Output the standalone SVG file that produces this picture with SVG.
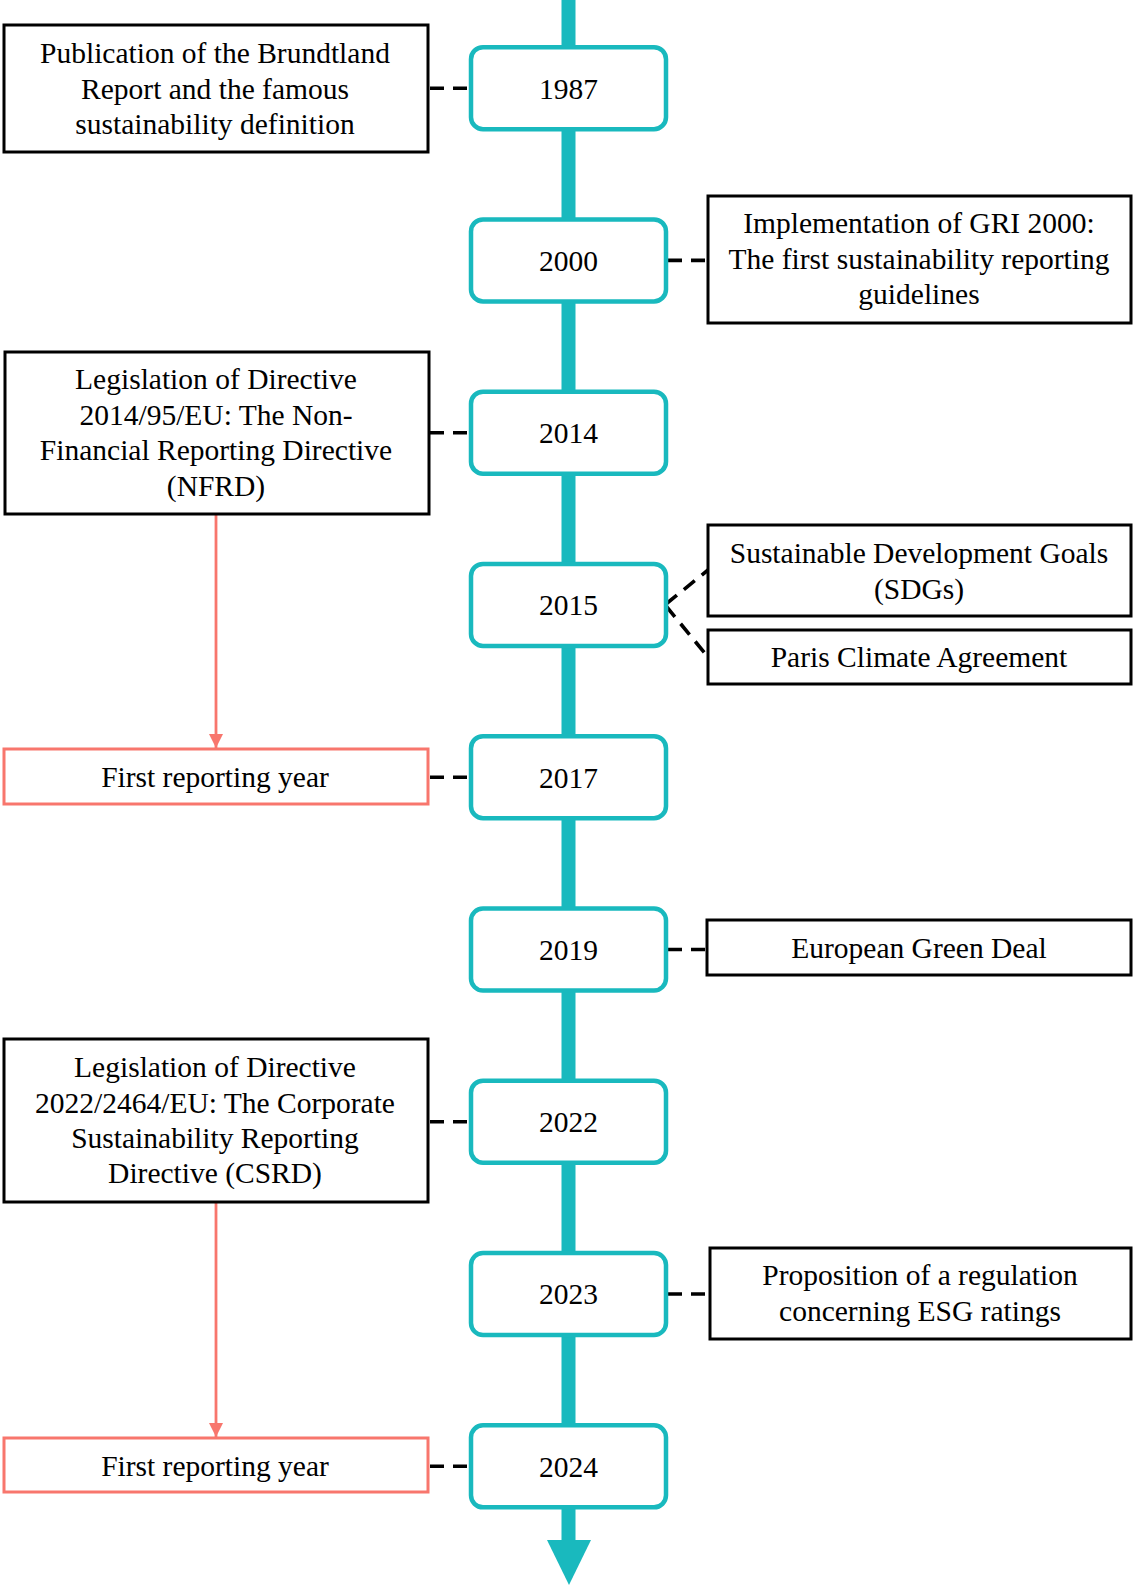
<svg xmlns="http://www.w3.org/2000/svg" width="1133" height="1589" viewBox="0 0 1133 1589">
<defs>
<style>
.t{font-family:"Liberation Serif","Times New Roman",serif;font-size:29.5px;fill:#000;text-anchor:middle}
.yr{fill:#fff;stroke:#19B9BE;stroke-width:4.5}
.bx{fill:#fff;stroke:#000;stroke-width:3}
.rb{fill:#fff;stroke:#F8766D;stroke-width:3}
.dash{stroke:#000;stroke-width:3.6;stroke-dasharray:14 9;fill:none}
.red{stroke:#F8766D;stroke-width:2.8;fill:none}
</style>
<marker id="ra" markerWidth="14" markerHeight="16" refX="7" refY="14" orient="0" markerUnits="userSpaceOnUse" viewBox="0 0 14 16">
<path d="M0,0 L14,0 L7,14 Z" fill="#F8766D"/>
</marker>
</defs>
<rect width="1133" height="1589" fill="#fff"/>
<g id="timeline">
<rect x="561.5" y="0" width="14" height="1542" fill="#19B9BE"/>
<path d="M547,1540 L591,1540 L569,1585 Z" fill="#19B9BE"/>
</g>
<g id="connectors">
<line class="dash" x1="430" y1="88.2" x2="471" y2="88.2"/>
<line class="dash" x1="668" y1="260.4" x2="708" y2="260.4"/>
<line class="dash" x1="430" y1="432.7" x2="471" y2="432.7"/>
<line class="dash" x1="666" y1="604" x2="708" y2="570"/>
<line class="dash" x1="666" y1="606" x2="708" y2="657"/>
<line class="dash" x1="430" y1="777.2" x2="471" y2="777.2"/>
<line class="dash" x1="668" y1="949.5" x2="707" y2="949.5"/>
<line class="dash" x1="430" y1="1121.7" x2="471" y2="1121.7"/>
<line class="dash" x1="668" y1="1294" x2="710" y2="1294"/>
<line class="dash" x1="430" y1="1466.3" x2="471" y2="1466.3"/>
<line class="red" x1="216" y1="514" x2="216" y2="748" marker-end="url(#ra)"/>
<line class="red" x1="216" y1="1202" x2="216" y2="1437" marker-end="url(#ra)"/>
</g>
<g id="y1987"><rect class="yr" x="471" y="47.2" width="195" height="82" rx="12"/><text class="t" x="568.5" y="98.5">1987</text></g>
<g id="y2000"><rect class="yr" x="471" y="219.4" width="195" height="82" rx="12"/><text class="t" x="568.5" y="270.7">2000</text></g>
<g id="y2014"><rect class="yr" x="471" y="391.7" width="195" height="82" rx="12"/><text class="t" x="568.5" y="443">2014</text></g>
<g id="y2015"><rect class="yr" x="471" y="563.9" width="195" height="82" rx="12"/><text class="t" x="568.5" y="615.2">2015</text></g>
<g id="y2017"><rect class="yr" x="471" y="736.2" width="195" height="82" rx="12"/><text class="t" x="568.5" y="787.5">2017</text></g>
<g id="y2019"><rect class="yr" x="471" y="908.5" width="195" height="82" rx="12"/><text class="t" x="568.5" y="959.8">2019</text></g>
<g id="y2022"><rect class="yr" x="471" y="1080.7" width="195" height="82" rx="12"/><text class="t" x="568.5" y="1132">2022</text></g>
<g id="y2023"><rect class="yr" x="471" y="1253" width="195" height="82" rx="12"/><text class="t" x="568.5" y="1304.3">2023</text></g>
<g id="y2024"><rect class="yr" x="471" y="1425.3" width="195" height="82" rx="12"/><text class="t" x="568.5" y="1476.6">2024</text></g>
<g id="brundtland"><rect class="bx" x="4" y="25" width="424" height="127"/>
<text class="t" x="215" y="63">Publication of the Brundtland</text>
<text class="t" x="215" y="99">Report and the famous</text>
<text class="t" x="215" y="134">sustainability definition</text></g>
<g id="gri"><rect class="bx" x="708" y="196" width="423" height="127"/>
<text class="t" x="919" y="233">Implementation of GRI 2000:</text>
<text class="t" x="919" y="269">The first sustainability reporting</text>
<text class="t" x="919" y="304">guidelines</text></g>
<g id="nfrd"><rect class="bx" x="5" y="352" width="424" height="162"/>
<text class="t" x="216" y="389">Legislation of Directive</text>
<text class="t" x="216" y="425">2014/95/EU: The Non-</text>
<text class="t" x="216" y="460">Financial Reporting Directive</text>
<text class="t" x="216" y="496">(NFRD)</text></g>
<g id="sdgs"><rect class="bx" x="708" y="525" width="423" height="91"/>
<text class="t" x="919" y="563">Sustainable Development Goals</text>
<text class="t" x="919" y="599">(SDGs)</text></g>
<g id="paris"><rect class="bx" x="708" y="630" width="423" height="54"/>
<text class="t" x="919" y="667">Paris Climate Agreement</text></g>
<g id="first2017"><rect class="rb" x="4" y="749" width="424" height="55"/>
<text class="t" x="215" y="787">First reporting year</text></g>
<g id="egd"><rect class="bx" x="707" y="920" width="424" height="55"/>
<text class="t" x="919" y="958">European Green Deal</text></g>
<g id="csrd"><rect class="bx" x="4" y="1039" width="424" height="163"/>
<text class="t" x="215" y="1077">Legislation of Directive</text>
<text class="t" x="215" y="1113">2022/2464/EU: The Corporate</text>
<text class="t" x="215" y="1148">Sustainability Reporting</text>
<text class="t" x="215" y="1183">Directive (CSRD)</text></g>
<g id="esg"><rect class="bx" x="710" y="1248" width="421" height="91"/>
<text class="t" x="920" y="1285">Proposition of a regulation</text>
<text class="t" x="920" y="1321">concerning ESG ratings</text></g>
<g id="first2024"><rect class="rb" x="4" y="1438" width="424" height="54"/>
<text class="t" x="215" y="1476">First reporting year</text></g>
</svg>
